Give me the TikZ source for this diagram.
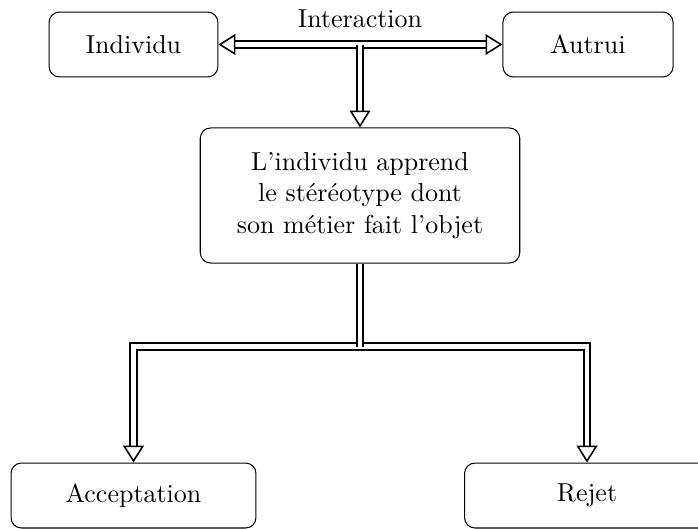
\documentclass[tikz,border=0pt]{standalone}
\usetikzlibrary{arrows.meta}
\begin{document}
\begin{tikzpicture}[x=0.385pt,y=-0.385pt,
    >={Triangle[open,length=6.5pt,width=8pt,line width=0.6pt]},
    dbl/.style={draw=black,line width=0.7pt,double,double distance=1.9pt}]
  \useasboundingbox (0,0) rectangle (698,528);
  \begin{scope}[every node/.style={draw,rounded corners,minimum height=25pt}]
    \node[minimum width=65pt] (indiv) at (133.5,44.5) {Individu};
    \node[minimum width=65.5pt] (autrui) at (588,44.5) {Autrui};
    \node[minimum width=123pt,minimum height=52pt,align=center] (central) at (360,195.5)
      {L'individu apprend\\le stéréotype dont\\son métier fait l'objet};
    \node[minimum width=94.3pt] (accept) at (133.5,495.5) {Acceptation};
    \node[minimum width=94.3pt] (rejet) at (587,495.5) {Rejet};
  \end{scope}
  \node[anchor=base] (inter-label) at (360,27) {Interaction};
  \coordinate (inter) at (360,44.5);
  \coordinate (split) at (360,346.5);
  \begin{scope}[every edge/.style={dbl}]
    \path (indiv) edge[<->] (autrui);
    \path (inter) edge[->] (central);
  \end{scope}
  \draw[dbl,<->] (accept) |- (split) -| (rejet);
  \draw[dbl] (central) -- (split);
\end{tikzpicture}
\end{document}
